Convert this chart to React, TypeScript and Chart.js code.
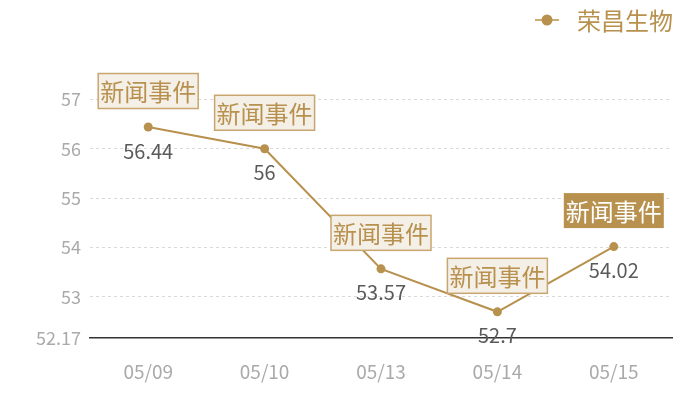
import React, { useEffect, useRef } from "react";
import { Chart, registerables } from "chart.js";

Chart.register(...registerables);

const categories = ["05/09", "05/10", "05/13", "05/14", "05/15"];
const prices = [56.44, 56, 53.57, 52.7, 54.02];
const yTicks = [52.17, 53, 54, 55, 56, 57];
const seriesName = "荣昌生物";
const eventLabel = "新闻事件";
const highlighted = [false, false, false, false, true];

const GOLD = "#b8914e";
const FONT = "'Noto Sans CJK SC', 'Noto Sans', sans-serif";

const overlayPlugin = {
  id: "overlay",
  afterDatasetsDraw(chart: any) {
    const ctx = chart.ctx;
    const meta = chart.getDatasetMeta(0);
    ctx.save();
    meta.data.forEach((pt: any, i: number) => {
      const x = pt.x;
      const y = pt.y;
      // value label
      ctx.font = `20px ${FONT}`;
      ctx.fillStyle = "#5a5a5a";
      ctx.textAlign = "center";
      ctx.textBaseline = "middle";
      ctx.fillText(String(prices[i]), x, y + 24);
      // event box
      ctx.font = `24px ${FONT}`;
      const tw = ctx.measureText(eventLabel).width;
      const bw = tw + 4;
      const bh = 35;
      const cy = y - 36;
      const bx = x - bw / 2;
      const by = cy - bh / 2;
      if (highlighted[i]) {
        ctx.fillStyle = GOLD;
        ctx.fillRect(bx, by, bw, bh);
        ctx.fillStyle = "#ffffff";
      } else {
        ctx.fillStyle = "#f4efe7";
        ctx.fillRect(bx, by, bw, bh);
        ctx.strokeStyle = "#c9a670";
        ctx.lineWidth = 1.5;
        ctx.strokeRect(bx, by, bw, bh);
        ctx.fillStyle = GOLD;
      }
      ctx.fillText(eventLabel, x, cy + 1);
    });
    // legend
    ctx.font = `24px ${FONT}`;
    ctx.textAlign = "left";
    ctx.textBaseline = "middle";
    const lx = 547;
    const ly = 20;
    ctx.strokeStyle = GOLD;
    ctx.lineWidth = 1.5;
    ctx.beginPath();
    ctx.moveTo(lx - 12, ly);
    ctx.lineTo(lx + 12, ly);
    ctx.stroke();
    ctx.fillStyle = GOLD;
    ctx.beginPath();
    ctx.arc(lx, ly, 5.5, 0, Math.PI * 2);
    ctx.fill();
    ctx.fillText(seriesName, 577, ly + 1);
    ctx.restore();
  },
};

export default function App() {
  const ref = useRef<HTMLCanvasElement>(null);
  useEffect(() => {
    document.body.style.margin = "0";
    const chart = new Chart(ref.current!, {
      type: "line",
      data: {
        labels: categories,
        datasets: [
          {
            label: seriesName,
            data: prices,
            borderColor: GOLD,
            backgroundColor: GOLD,
            borderWidth: 2,
            pointRadius: 4.5,
            pointBackgroundColor: GOLD,
            pointBorderWidth: 0,
            tension: 0,
          },
        ],
      },
      options: {
        animation: false,
        responsive: false,
        layout: { padding: { top: 45, right: 28, left: 0, bottom: 0 } },
        plugins: { legend: { display: false }, tooltip: { enabled: false } },
        scales: {
          x: {
            offset: true,
            grid: { display: false, drawTicks: false },
            border: { display: true, color: "#333333", width: 1.5 },
            ticks: { color: "#aaaaaa", font: { size: 19, family: FONT }, padding: 22 },
            afterFit(scale: any) {
              scale.height = 62;
            },
          },
          y: {
            min: 52.17,
            max: 58.1,
            afterBuildTicks(scale: any) {
              scale.ticks = yTicks.map((v) => ({ value: v }));
            },
            afterFit(scale: any) {
              scale.width = 90;
            },
            border: { display: false, dash: [3, 3] },
            grid: {
              drawTicks: false,
              color: (c: any) => (c.tick && c.tick.value === 52.17 ? "rgba(0,0,0,0)" : "#d9d9d9"),
            },
            ticks: {
              color: "#aaaaaa",
              font: { size: 18, family: FONT },
              padding: 9,
              callback: (v: any) => String(v),
            },
          },
        },
      },
      plugins: [overlayPlugin],
    });
    return () => chart.destroy();
  }, []);
  return (
    <div style={{ position: "absolute", left: 0, top: 0, width: 700, height: 400 }}>
      <canvas ref={ref} width={700} height={400} />
    </div>
  );
}
